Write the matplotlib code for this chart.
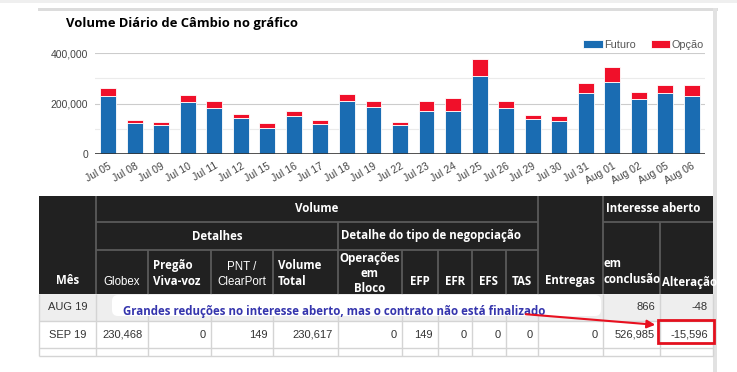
import matplotlib.pyplot as plt
from matplotlib.patches import Rectangle, FancyBboxPatch, FancyArrowPatch

# ==========================
# Fontes
# ==========================
plt.rcParams["font.family"] = ["Liberation Sans", "DejaVu Sans"]
TITLE_FONT = ["Open Sans", "DejaVu Sans"]

# ==========================
# Dados do gráfico
# ==========================
dias = [
    "Jul 05", "Jul 08", "Jul 09", "Jul 10", "Jul 11", "Jul 12",
    "Jul 15", "Jul 16", "Jul 17", "Jul 18", "Jul 19", "Jul 22",
    "Jul 23", "Jul 24", "Jul 25", "Jul 26", "Jul 29", "Jul 30",
    "Jul 31", "Aug 01", "Aug 02", "Aug 05", "Aug 06"
]

futuro = [
    230000, 122000, 113000, 204000, 181000, 142000,
    102000, 150000, 118000, 211000, 188000, 113000,
    172000, 172000, 307000, 184000, 138000, 132000,
    240000, 285000, 216000, 240000, 228000
]

opcao = [
    33000, 13000, 13000, 29000, 27000, 18000,
    21000, 21000, 16000, 27000, 20000, 15000,
    36000, 50000, 68000, 24000, 18000, 20000,
    43000, 58000, 29000, 35000, 44000
]

# ==========================
# Dados da tabela
# ==========================
meses = ["AUG 19", "SEP 19", ""]

linha_aug = ["", "", "", "", "", "", "", "", "", "", "866", "-48"]
linha_sep = ["230,468", "0", "149", "230,617", "0", "149",
             "0", "0", "0", "0", "526,985", "-15,596"]
linha_vazia = [""] * 12

linhas = [linha_aug, linha_sep, linha_vazia]

cabecalho = [
    "Globex", "Pregão\nViva-voz", "PNT /\nClearPort", "Volume\nTotal",
    "Operações\nem\nBloco", "EFP", "EFR", "EFS", "TAS"
]

nota = "Grandes reduções no interesse aberto, mas o contrato não está finalizado"

# ==========================
# Cores
# ==========================
AZUL = "#1a6cb2"
VERMELHO = "#f0102a"
HEADER_BG = "#212121"
HEADER_LINE = "#5a5a5a"
GRID_LINE = "#d4d4d4"

W, H = 737, 372

fig = plt.figure(figsize=(W / 100, H / 100), dpi=100)

# camada de fundo em pixels
bg = fig.add_axes([0, 0, 1, 1])
bg.set_xlim(0, W)
bg.set_ylim(H, 0)
bg.axis("off")

bg.add_patch(Rectangle((0, 0), W, 3, color="#efefef", lw=0))
bg.add_patch(Rectangle((38, 8), 680, 3, color="#dcdcdc", lw=0))
bg.add_patch(Rectangle((713, 8), 4, H - 8, color="#e2e2e2", lw=0))

bg.text(
    66, 24,
    "Volume Diário de Câmbio no gráfico",
    family=TITLE_FONT,
    fontsize=9.4,
    fontweight="bold",
    va="center",
    ha="left",
    color="black"
)

# ==========================
# Gráfico de barras
# ==========================
ax = fig.add_axes([95 / W, 1 - 154 / H, 610 / W, 101 / H])

x = range(len(dias))

ax.bar(x, futuro, width=0.6, color=AZUL, edgecolor="white",
       linewidth=0.6, label="Futuro", zorder=3)
ax.bar(x, opcao, width=0.6, bottom=futuro, color=VERMELHO,
       edgecolor="white", linewidth=0.6, label="Opção", zorder=3)

ax.set_xlim(-0.5, len(dias) - 0.5)
ax.set_ylim(0, 400000)

for v in [100000, 300000]:
    ax.axhline(v, color="#ebebeb", lw=0.8, zorder=1)
for v in [200000, 400000]:
    ax.axhline(v, color="#cccccc", lw=0.8, zorder=1)
ax.axhline(0, color="#333333", lw=1.2, zorder=4)

ax.set_yticks([0, 200000, 400000])
ax.set_yticklabels(["0", "200,000", "400,000"])

ax.set_xticks(list(x))
ax.set_xticklabels(dias, rotation=30, ha="right", rotation_mode="anchor")

ax.tick_params(axis="both", length=0, labelsize=7.5, labelcolor="#444444")
ax.tick_params(axis="y", pad=5)
ax.tick_params(axis="x", pad=5)

for s in ax.spines.values():
    s.set_visible(False)

ax.legend(
    loc="center right",
    bbox_to_anchor=(709 / W, 1 - 45 / H),
    bbox_transform=fig.transFigure,
    ncol=2,
    frameon=False,
    fontsize=7.8,
    labelcolor="#555555",
    handlelength=1.8,
    handleheight=0.75,
    handletextpad=0.1,
    columnspacing=1.4,
    borderpad=0
)

# ==========================
# Tabela
# ==========================
cols = [39, 96, 148, 211, 273, 338, 402, 438, 472, 506, 538, 603, 660, 713]
top, r1, r2, hb = 196, 222, 250, 294
rows = [294, 321, 348, 356]

bg.add_patch(Rectangle((cols[0], top), cols[-1] - cols[0], hb - top,
                       color=HEADER_BG, lw=0))


def hline(y, x0, x1, c=HEADER_LINE, lw=1.3):
    bg.plot([x0, x1], [y, y], color=c, lw=lw, solid_capstyle="butt")


def vline(xx, y0, y1, c=HEADER_LINE, lw=1.3):
    bg.plot([xx, xx], [y0, y1], color=c, lw=lw, solid_capstyle="butt")


vline(cols[1], top, hb)
vline(cols[10], top, hb)
vline(cols[11], top, hb)
hline(r1, cols[1], cols[10])
hline(r1, cols[11], cols[13])
hline(r2, cols[1], cols[10])
vline(cols[5], r1, hb)
vline(cols[12], r1, hb)
for i in [2, 3, 4, 6, 7, 8, 9]:
    vline(cols[i], r2, hb)

hdr = dict(family=TITLE_FONT, fontweight="bold", color="white",
           fontsize=8.3)

bg.text((cols[1] + cols[10]) / 2, (top + r1) / 2, "Volume",
        ha="center", va="center", **hdr)
bg.text((cols[1] + cols[5]) / 2, (r1 + r2) / 2, "Detalhes",
        ha="center", va="center", **hdr)
bg.text(cols[5] + 3, (r1 + r2) / 2 - 1, "Detalhe do tipo de negopciação",
        ha="left", va="center", **hdr)
bg.text(cols[11] + 3, (top + r1) / 2, "Interesse aberto",
        ha="left", va="center", **hdr)
bg.text((cols[0] + cols[1]) / 2, 284, "Mês",
        ha="center", va="baseline", **hdr)
bg.text((cols[10] + cols[11]) / 2, 284, "Entregas",
        ha="center", va="baseline", **hdr)
bg.text(cols[11] + 1, 283, "em\nconclusão",
        ha="left", va="baseline", linespacing=1.3, **hdr)

# "Alteração" transborda e é cortado na borda da tabela
alt = bg.text(cols[12] + 2, 286, "Alteração",
              ha="left", va="baseline", **hdr)
clip = Rectangle((cols[12], r1), cols[13] - cols[12] + 3, hb - r1,
                 transform=bg.transData)
alt.set_clip_path(clip)

for i, lab in enumerate(cabecalho):
    xc = (cols[i + 1] + cols[i + 2]) / 2
    if lab in ["Globex", "PNT /\nClearPort"]:
        bg.text(xc, 285, lab, ha="center", va="baseline",
                color="white", fontsize=8.3, linespacing=1.35)
    elif lab in ["Pregão\nViva-voz", "Volume\nTotal"]:
        bg.text(cols[i + 1] + 5, 285, lab, ha="left", va="baseline",
                linespacing=1.3, **hdr)
    elif i == 4:
        bg.text(xc, 292, lab, ha="center", va="baseline",
                linespacing=1.2, **hdr)
    else:
        bg.text(xc, 285, lab, ha="center", va="baseline",
                linespacing=1.3, **hdr)

# linhas de dados
bg.add_patch(Rectangle((cols[0], rows[0]), cols[-1] - cols[0],
                       rows[1] - rows[0], color="#eeeeee", lw=0))

for y in rows[1:]:
    hline(y, cols[0], cols[-1], c=GRID_LINE, lw=1)
for xx in cols:
    vline(xx, rows[0], rows[-1], c=GRID_LINE, lw=1)

for r, (mes, vals) in enumerate(zip(meses, linhas)):
    yc = (rows[r] + rows[r + 1]) / 2
    bg.text((cols[0] + cols[1]) / 2, yc, mes, ha="center", va="center",
            fontsize=8, color="#333333")
    for i, v in enumerate(vals):
        bg.text(cols[i + 2] - 5, yc, v, ha="right", va="center",
                fontsize=8, color="#333333")

# caixa de nota sobre a linha AUG 19
bg.add_patch(FancyBboxPatch((112, 295), 489, 21,
                            boxstyle="round,pad=0,rounding_size=6",
                            fc="white", ec="none", zorder=5))
bg.text(123, 311, nota, family=TITLE_FONT, fontweight="bold",
        fontsize=8.3, color="#3535ad", ha="left", va="center", zorder=6)

bg.add_patch(FancyArrowPatch((523, 314), (658, 325),
                             arrowstyle="-|>", mutation_scale=12,
                             color="#e8101f", lw=1.5, zorder=7))
bg.add_patch(Rectangle((658, 320), 56, 23, fill=False,
                       ec="#e3101e", lw=2, zorder=7))

plt.savefig("out.png", dpi=100)
